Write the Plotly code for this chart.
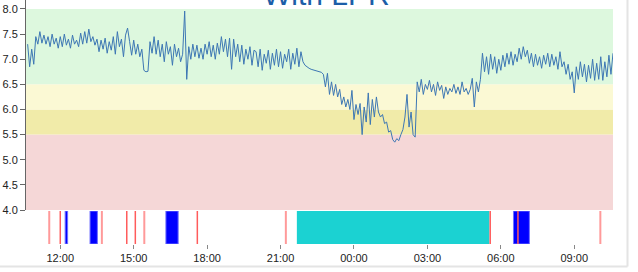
import pandas as pd
import plotly.graph_objects as go

# ---------------- data ----------------
ph_start = "2023-05-01 10:40"
ph_step_min = 5
ph_values = [
    # 10:40 - 11:55
    7.30, 6.85, 7.20, 6.90, 7.45, 7.30, 7.55, 7.32, 7.48, 7.30, 7.45, 7.25, 7.50, 7.30, 7.42, 7.22,
    # 12
    7.45, 7.25, 7.50, 7.28, 7.40, 7.22, 7.48, 7.30, 7.38, 7.25, 7.52, 7.30,
    # 13
    7.55, 7.32, 7.60, 7.35, 7.45, 7.28, 7.40, 7.15, 7.38, 7.20, 7.42, 7.12,
    # 14
    7.35, 7.18, 7.45, 7.10, 7.55, 7.25, 7.40, 7.05, 7.48, 7.62, 7.35, 7.08,
    # 15
    7.38, 7.10, 7.30, 7.05, 7.20, 6.78, 6.75, 6.76, 7.35, 7.12, 7.45, 7.10,
    # 16
    7.38, 7.05, 7.30, 6.95, 7.35, 7.10, 7.25, 6.88, 7.30, 7.05, 7.22, 6.95,
    # 17
    7.10, 7.96, 6.60, 7.25, 7.00, 7.30, 7.05, 7.28, 7.02, 7.22, 7.00, 7.30,
    # 18
    7.10, 7.35, 7.05, 7.28, 7.00, 7.32, 7.10, 7.45, 7.15, 7.40, 7.05, 7.42,
    # 19
    6.80, 7.40, 7.05, 7.30, 6.95, 7.28, 6.90, 7.20, 7.00, 7.25, 6.88, 7.18,
    # 20
    7.15, 6.85, 7.20, 6.78, 7.10, 6.92, 7.18, 6.80, 7.12, 6.88, 7.20, 6.85,
    # 21
    7.15, 6.82, 7.10, 6.95, 7.20, 6.80, 7.12, 6.90, 7.22, 6.85, 7.15, 6.95,
    # 22
    6.88, 6.84, 6.82, 6.80, 6.79, 6.78, 6.76, 6.75, 6.74, 6.70, 6.45, 6.72,
    # 23
    6.30, 6.55, 6.28, 6.50, 6.25, 6.40, 6.10, 6.25, 6.05, 6.20, 6.00, 6.38,
    # 00
    5.80, 6.10, 5.90, 6.12, 5.50, 6.05, 5.75, 6.33, 5.70, 6.20, 5.85, 6.25,
    # 01
    5.95, 5.85, 5.90, 5.72, 5.75, 5.55, 5.58, 5.40, 5.35, 5.42, 5.38, 5.50,
    # 02
    5.60, 5.85, 6.30, 5.65, 5.95, 5.50, 5.45, 6.55, 6.35, 6.60, 6.30, 6.50,
    # 03
    6.40, 6.58, 6.35, 6.50, 6.28, 6.55, 6.38, 6.48, 6.22, 6.45, 6.30, 6.42,
    # 04
    6.35, 6.50, 6.32, 6.45, 6.30, 6.55, 6.35, 6.42, 6.30, 6.40, 6.62, 6.05,
    # 05
    6.55, 6.35, 6.60, 7.12, 6.75, 7.05, 6.70, 7.10, 6.80, 7.05, 6.72, 7.00,
    # 06
    6.78, 7.08, 6.85, 7.12, 6.90, 7.15, 6.88, 7.10, 6.95, 7.22, 7.00, 7.25,
    # 07
    7.05, 7.18, 6.92, 7.12, 6.85, 7.10, 6.88, 7.05, 6.82, 7.08, 6.90, 7.12,
    # 08
    6.85, 7.10, 6.88, 7.05, 6.80, 7.15, 6.85, 6.95, 6.70, 6.90, 6.60, 6.75,
    # 09
    6.33, 6.85, 6.60, 6.95, 6.65, 6.90, 6.55, 6.88, 6.62, 7.00, 6.58, 6.92,
    # 10
    6.60, 7.05, 6.58, 6.95, 6.65, 7.08, 6.70, 7.12,
]

band_edges = [4.0, 5.5, 6.0, 6.5, 8.0]
band_colors = ["#f5d7d7", "#f1eba9", "#fbf9d4", "#ddf8de"]

y_ticks = [4.0, 4.5, 5.0, 5.5, 6.0, 6.5, 7.0, 7.5, 8.0]

red_events_light = ["2023-05-01 11:33", "2023-05-01 13:42", "2023-05-01 15:26",
                    "2023-05-01 21:13", "2023-05-02 10:04"]
red_events_dark = ["2023-05-01 12:00", "2023-05-01 14:43", "2023-05-01 15:04",
                   "2023-05-01 17:36", "2023-05-02 05:34", "2023-05-02 06:42"]
blue_starts = ["2023-05-01 12:12", "2023-05-01 13:13", "2023-05-01 16:19", "2023-05-02 06:31"]
blue_ends = ["2023-05-01 12:18", "2023-05-01 13:31", "2023-05-01 16:49", "2023-05-02 07:10"]
cyan_starts = ["2023-05-01 21:40"]
cyan_ends = ["2023-05-02 05:32"]

x_range = ["2023-05-01 10:36", "2023-05-02 10:35"]
title_text = "With LPR"

# ---------------- figure ----------------
times = pd.date_range(ph_start, periods=len(ph_values), freq=f"{ph_step_min}min")

fig = go.Figure()
fig.add_trace(go.Scatter(
    x=times, y=ph_values, mode="lines",
    line=dict(color="#3d77b4", width=1),
    xaxis="x", yaxis="y", hoverinfo="skip", showlegend=False,
))
# dummy trace for the event strip axis
fig.add_trace(go.Scatter(x=[times[0]], y=[0.5], mode="markers",
                         marker=dict(opacity=0), xaxis="x", yaxis="y2",
                         showlegend=False, hoverinfo="skip"))

shapes = []
for lo, hi, col in zip(band_edges[:-1], band_edges[1:], band_colors):
    shapes.append(dict(type="rect", xref="x domain", yref="y", x0=0, x1=1, y0=lo, y1=hi,
                       fillcolor=col, line=dict(width=0), layer="below"))

for s, e in zip(cyan_starts, cyan_ends):
    shapes.append(dict(type="rect", xref="x", yref="y2", x0=s, x1=e, y0=0, y1=1,
                       fillcolor="#1bd2d2", line=dict(width=0)))
for s, e in zip(blue_starts, blue_ends):
    shapes.append(dict(type="rect", xref="x", yref="y2", x0=s, x1=e, y0=0, y1=1,
                       fillcolor="#0000ff", line=dict(width=1, color="#7070ff")))
for t in red_events_light:
    shapes.append(dict(type="line", xref="x", yref="y2", x0=t, x1=t, y0=0, y1=1,
                       line=dict(color="#ff9a9a", width=2)))
for t in red_events_dark:
    shapes.append(dict(type="line", xref="x", yref="y2", x0=t, x1=t, y0=0, y1=1,
                       line=dict(color="#ff5c5c", width=1.5)))

# card border
W, H = 638, 272
ml, mr, mt, mb = 26, 25, 0, 28
pw, ph = W - ml - mr, H - mt - mb
def px_x(p): return (p - ml) / pw
def px_y(p): return (H - mb - p) / ph
shapes.append(dict(type="line", xref="paper", yref="paper", x0=px_x(627.5), x1=px_x(627.5),
                   y0=px_y(0), y1=px_y(266.5), line=dict(color="#e4e4e4", width=2)))
shapes.append(dict(type="line", xref="paper", yref="paper", x0=px_x(0), x1=px_x(627.5),
                   y0=px_y(266.5), y1=px_y(266.5), line=dict(color="#e4e4e4", width=2)))

fig.update_layout(
    width=W, height=H,
    margin=dict(l=ml, r=mr, t=mt, b=mb, pad=0),
    paper_bgcolor="white", plot_bgcolor="white",
    font=dict(family="Liberation Sans, Arial, sans-serif", size=11, color="#222"),
    showlegend=False,
    shapes=shapes,
    xaxis=dict(
        type="date", range=x_range, anchor="y2",
        showline=False, showgrid=False, zeroline=False,
        ticks="outside", ticklen=4, tickcolor="#888", tickwidth=1,
        tick0="2023-05-01 00:00", dtick=3 * 3600 * 1000, tickformat="%H:%M",
        tickfont=dict(size=11, color="#222"),
    ),
    yaxis=dict(
        domain=[(244 - 210) / 244, 1], range=[4.0, 8.179],
        tickvals=y_ticks, ticktext=[f"{v:.1f}" for v in y_ticks],
        showline=True, linecolor="#666", linewidth=1,
        ticks="outside", ticklen=5, tickcolor="#666",
        showgrid=False, zeroline=False, tickfont=dict(size=11, color="#222"),
    ),
    yaxis2=dict(
        domain=[0, 33 / 244], range=[0, 1], visible=False,
    ),
    annotations=[dict(
        text=title_text, xref="paper", yref="paper", x=px_x(326.7), y=px_y(-6),
        xanchor="center", yanchor="middle", showarrow=False,
        font=dict(size=30, color="#1c5ea8", family="Liberation Sans, Arial, sans-serif"),
    )],
)

fig.write_html("out.html")
